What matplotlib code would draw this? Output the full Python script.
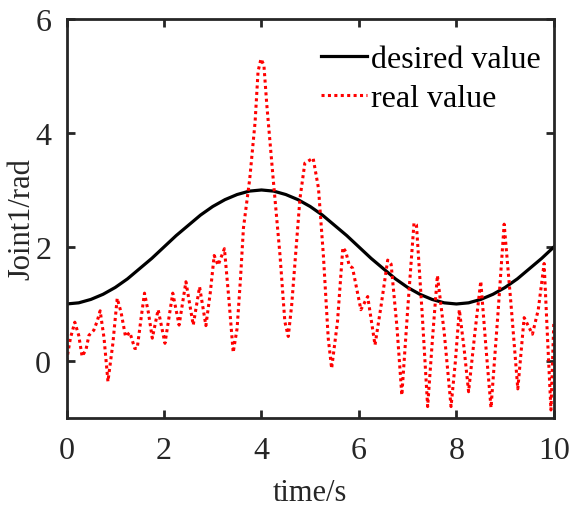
import matplotlib
matplotlib.use("Agg")
import matplotlib.pyplot as plt

plt.rcParams['font.family'] = ['Liberation Serif', 'DejaVu Serif']

# desired value (every 0.25 s)
t_des = [i * 0.25 for i in range(41)]
y_des = [1.00, 1.02, 1.08, 1.17, 1.29, 1.44, 1.62, 1.80,
         2.00, 2.20, 2.38, 2.56, 2.71, 2.83, 2.92, 2.98,
         3.00, 2.98, 2.92, 2.83, 2.71, 2.56, 2.38, 2.20,
         2.00, 1.80, 1.62, 1.44, 1.29, 1.17, 1.08, 1.02,
         1.00, 1.02, 1.08, 1.17, 1.29, 1.44, 1.62, 1.80, 2.00]

# real value (read at extrema and along slopes)
t_real = [0.00, 0.08, 0.17, 0.25, 0.32, 0.40, 0.46, 0.56, 0.63, 0.69, 0.77, 0.85,
          0.95, 1.04, 1.12, 1.21, 1.30, 1.40, 1.45, 1.53, 1.60, 1.68, 1.76, 1.88,
          2.02, 2.10, 2.18, 2.31, 2.45, 2.60, 2.73, 2.86, 2.95, 3.03, 3.11, 3.24,
          3.33, 3.42, 3.50, 3.57, 3.63, 3.76, 3.87, 3.93, 3.99, 4.05, 4.11, 4.24,
          4.38, 4.48, 4.55, 4.62, 4.79, 4.89, 5.06, 5.17, 5.27, 5.37, 5.44, 5.56,
          5.67, 5.73, 5.80, 5.87, 6.04, 6.18, 6.33, 6.46, 6.59, 6.66, 6.78, 6.88,
          7.00, 7.13, 7.18, 7.30, 7.41, 7.51, 7.61, 7.75, 7.89, 7.98, 8.06, 8.16,
          8.25, 8.38, 8.50, 8.61, 8.71, 8.85, 8.98, 9.12, 9.26, 9.39, 9.56, 9.68,
          9.80, 9.87, 9.94, 10.00]
y_real = [0.00, 0.40, 0.68, 0.45, 0.08, 0.20, 0.45, 0.54, 0.70, 0.88, 0.40, -0.36,
          0.30, 1.10, 0.85, 0.43, 0.50, 0.22, 0.22, 0.75, 1.19, 0.85, 0.40, 0.90,
          0.31, 0.75, 1.19, 0.63, 1.39, 0.63, 1.30, 0.62, 1.20, 1.85, 1.68, 1.97,
          1.10, 0.15, 0.57, 1.45, 2.33, 3.20, 4.20, 5.08, 5.30, 5.19, 4.49, 3.20,
          1.86, 0.69, 0.43, 0.98, 2.85, 3.47, 3.56, 3.03, 1.86, 0.40, -0.13, 0.69,
          1.99, 1.92, 1.68, 1.63, 0.90, 1.13, 0.28, 1.00, 1.77, 1.70, 0.60, -0.60,
          0.90, 2.42, 2.39, 0.80, -0.80, 0.40, 1.50, 0.50, -0.80, 0.00, 0.90, 0.20,
          -0.54, 0.50, 1.40, 0.20, -0.82, 0.80, 2.40, 1.00, -0.49, 0.76, 0.47, 0.90,
          1.71, 0.40, -0.86, 0.70]

x_ticks = [0, 2, 4, 6, 8, 10]
y_ticks = [0, 2, 4, 6]

fig = plt.figure(figsize=(5.71, 5.06), dpi=100)
ax = fig.add_axes([0.1165, 0.172, 0.8535, 0.7885])

ax.plot(t_des, y_des, color='black', linewidth=2.3, label='desired value')
ax.plot(t_real, y_real, color='red', linestyle=(0, (1.0, 1.1)), linewidth=2.2,
        label='real value')

ax.set_xlim(0, 10)
ax.set_ylim(-1, 6)
ax.set_xticks(x_ticks)
ax.set_yticks(y_ticks)

spine_col = '#262626'
for s in ax.spines.values():
    s.set_linewidth(2.0)
    s.set_color(spine_col)
ax.tick_params(direction='in', length=6, width=2, colors=spine_col,
               top=True, right=True, labelsize=23)
ax.tick_params(axis='x', pad=13)
ax.tick_params(axis='y', pad=11)
for lab in ax.get_xticklabels() + ax.get_yticklabels():
    lab.set_color('#262626')

ax.set_xlabel('time/s', fontsize=22, color='#262626', labelpad=9)
ax.set_ylabel('Joint1/rad', fontsize=22, color='#262626')
ax.yaxis.set_label_coords(-0.061, 0.5)

leg = ax.legend(loc='upper right', frameon=False, fontsize=23,
                handlelength=1.45, handletextpad=0.12, labelspacing=0.3,
                bbox_to_anchor=(0.999, 0.967), borderaxespad=0.0)

fig.savefig('out.png', dpi=100)
